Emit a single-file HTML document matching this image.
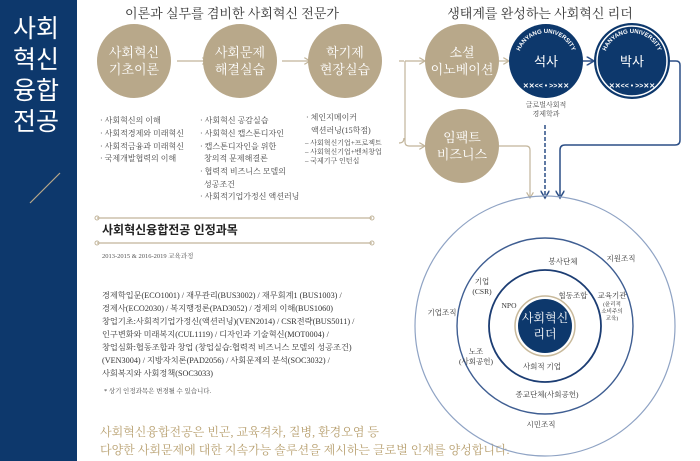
<!DOCTYPE html>
<html><head><meta charset="utf-8"><style>
html,body{margin:0;padding:0;background:#fff;}
svg{display:block;font-family:"Liberation Serif","Noto Serif CJK SC","Noto Sans CJK KR",serif;}
</style></head><body>
<svg width="700" height="461" viewBox="0 0 700 461" xmlns="http://www.w3.org/2000/svg">
<defs>
<marker id="at" markerWidth="6" markerHeight="6" refX="5" refY="3" orient="auto"><path d="M0,0 L5,3 L0,6" fill="none" stroke="#c2b59b" stroke-width="1"/></marker>
<marker id="an" markerWidth="6" markerHeight="6" refX="5" refY="3" orient="auto"><path d="M0,0 L5,3 L0,6" fill="none" stroke="#2c4f86" stroke-width="1"/></marker>
</defs>
<rect x="0" y="0" width="77" height="461" fill="#0d386c"/>
<g fill="#fff" font-family="Liberation Sans,'Noto Sans CJK KR',sans-serif" font-size="25" text-anchor="middle">
<text x="36" y="37">사회</text><text x="36" y="68">혁신</text><text x="36" y="99">융합</text><text x="36" y="130">전공</text>
</g>
<line x1="30" y1="203" x2="60" y2="173" stroke="#b8a88a" stroke-width="1.2"/>

<text x="232" y="18" font-size="13" fill="#333" text-anchor="middle">이론과 실무를 겸비한 사회혁신 전문가</text>
<text x="540" y="18" font-size="13" fill="#333" text-anchor="middle">생태계를 완성하는 사회혁신 리더</text>

<g stroke="#c2b59b" stroke-width="1.2" fill="none">
<line x1="177" y1="61" x2="208" y2="61" marker-end="url(#at)"/>
<line x1="282" y1="61" x2="310" y2="61" marker-end="url(#at)"/>
<path d="M405,61 L405,142 Q405,146 409,146 L425,146" marker-end="url(#at)"/>
<line x1="405" y1="61" x2="425" y2="61" marker-end="url(#at)"/>
<path d="M399,61 L404,61 M399,143 Q404,143 404,138"/>
<line x1="499" y1="61" x2="509" y2="61" marker-end="url(#at)"/>
<path d="M499,146 L526,146 Q530,146 530,150 L530,198" marker-end="url(#at)"/>
<line x1="97" y1="218" x2="372" y2="218"/>
<line x1="97" y1="243" x2="372" y2="243"/>
</g>
<g fill="none" stroke="#c2b59b"><circle cx="97" cy="218" r="2"/><circle cx="372" cy="218" r="2"/><circle cx="97" cy="243" r="2"/><circle cx="372" cy="243" r="2"/></g>

<g stroke="#2c4f86" stroke-width="1.5" fill="none">
<line x1="583" y1="61" x2="594" y2="61" marker-end="url(#an)"/>
<path d="M669,61 L676,61 Q680,61 680,65 L680,140 Q680,145 675,145 L565,145 Q560,145 560,150 L560,198" marker-end="url(#an)"/>
<line x1="545" y1="125" x2="545" y2="198" stroke-dasharray="4,2" marker-end="url(#an)"/>
</g>

<g fill="#b8a88a">
<circle cx="134" cy="61" r="37"/><circle cx="240" cy="61" r="37"/><circle cx="345" cy="61" r="37"/>
<circle cx="462" cy="61" r="37"/><circle cx="462" cy="146" r="37"/>
</g>
<g fill="#fff" font-size="13" text-anchor="middle">
<text x="134" y="57">사회혁신</text><text x="134" y="74">기초이론</text>
<text x="240" y="57">사회문제</text><text x="240" y="74">해결실습</text>
<text x="345" y="57">학기제</text><text x="345" y="74">현장실습</text>
<text x="462" y="57">소셜</text><text x="462" y="74">이노베이션</text>
<text x="462" y="142">임팩트</text><text x="462" y="159">비즈니스</text>
</g>

<circle cx="546" cy="61" r="37" fill="#0d386c"/>
<circle cx="632" cy="61" r="38" fill="#0d386c"/>
<circle cx="632" cy="61" r="35" fill="none" stroke="#fff" stroke-width="1.5"/>
<g fill="#fff" font-family="Liberation Sans,sans-serif" font-size="6" font-weight="bold" text-anchor="middle">
<path id="p1" d="M518,61 A28,28 0 0 1 574,61" fill="none"/>
<path id="p2" d="M604,61 A28,28 0 0 1 660,61" fill="none"/>
<text><textPath href="#p1" startOffset="50%">HANYANG UNIVERSITY</textPath></text>
<text><textPath href="#p2" startOffset="50%">HANYANG UNIVERSITY</textPath></text>
<text x="546" y="88" font-size="7">✕✕&lt;&lt; • &gt;&gt;✕✕</text>
<text x="632" y="88" font-size="7">✕✕&lt;&lt; • &gt;&gt;✕✕</text>
</g>
<g fill="#fff" font-size="13" text-anchor="middle" font-family="Liberation Sans,'Noto Sans CJK KR',sans-serif">
<text x="546" y="66">석사</text><text x="632" y="66">박사</text>
</g>
<g font-size="7" fill="#444" text-anchor="middle"><text x="546" y="107">글로벌사회적</text><text x="546" y="116">경제학과</text></g>

<g font-size="8" fill="#444">
<text x="100" y="123">· 사회혁신의 이해</text>
<text x="100" y="136">· 사회적경제와 미래혁신</text>
<text x="100" y="149">· 사회적금융과 미래혁신</text>
<text x="100" y="161">· 국제개발협력의 이해</text>
<text x="200" y="123">· 사회혁신 공감실습</text>
<text x="200" y="136">· 사회혁신 캡스톤디자인</text>
<text x="200" y="149">· 캡스톤디자인을 위한</text>
<text x="204" y="161">창의적 문제해결론</text>
<text x="200" y="174">· 협력적 비즈니스 모델의</text>
<text x="204" y="187">성공조건</text>
<text x="200" y="199">· 사회적기업가정신 액션러닝</text>
<text x="306" y="120">· 체인지메이커</text>
<text x="311" y="133">액션러닝(15학점)</text>
<text x="305" y="145" font-size="7">– 사회혁신기업+프로젝트</text>
<text x="305" y="154" font-size="7">– 사회혁신기업+벤처창업</text>
<text x="305" y="163" font-size="7">– 국제기구 인턴십</text>
</g>

<text x="102" y="234" font-size="12" font-weight="bold" fill="#222" font-family="Liberation Sans,'Noto Sans CJK KR',sans-serif">사회혁신융합전공 인정과목</text>
<text x="102" y="258" font-size="6.5" fill="#555">2013-2015 &amp; 2016-2019 교육과정</text>
<g font-size="8.2" fill="#333">
<text x="102" y="298">경제학입문(ECO1001) / 재무관리(BUS3002) / 재무회계1 (BUS1003) /</text>
<text x="102" y="311">경제사(ECO2030) / 복지행정론(PAD3052) / 경제의 이해(BUS1060)</text>
<text x="102" y="324">창업기초:사회적기업가정신(액션러닝)(VEN2014) / CSR전략(BUS5011) /</text>
<text x="102" y="337">인구변화와 미래복지(CUL1119) / 디자인과 기술혁신(MOT0004) /</text>
<text x="102" y="350">창업심화:협동조합과 창업 (창업실습:협력적 비즈니스 모델의 성공조건)</text>
<text x="102" y="363">(VEN3004) / 지방자치론(PAD2056) / 사회문제의 분석(SOC3032) /</text>
<text x="102" y="376">사회복지와 사회정책(SOC3033)</text>
</g>
<text x="104" y="393" font-size="6.5" fill="#444">* 상기 인정과목은 변경될 수 있습니다.</text>
<g font-size="12" fill="#b8a070">
<text x="100" y="436">사회혁신융합전공은 빈곤, 교육격차, 질병, 환경오염 등</text>
<text x="100" y="454">다양한 사회문제에 대한 지속가능 솔루션을 제시하는 글로벌 인재를 양성합니다.</text>
</g>

<g fill="none">
<circle cx="545" cy="326" r="130" stroke="#8fa3c4" stroke-width="1.2"/>
<circle cx="545" cy="326" r="88" stroke="#3f5e92" stroke-width="1.4"/>
<circle cx="545" cy="326" r="56" stroke="#1c3d73" stroke-width="1.8"/>
<circle cx="545" cy="326" r="30" stroke="#c8b99b" stroke-width="1.5"/>
</g>
<circle cx="545" cy="326" r="27" fill="#0d386c"/>
<g fill="#fff" font-size="12" text-anchor="middle"><text x="545" y="322">사회혁신</text><text x="545" y="338">리더</text></g>
<g font-size="7.5" fill="#333" text-anchor="middle">
<text x="563" y="264">봉사단체</text>
<text x="621" y="261">지원조직</text>
<text x="482" y="284">기업</text><text x="482" y="294">(CSR)</text>
<text x="573" y="298">협동조합</text>
<text x="612" y="298">교육기관</text>
<text x="612" y="306" font-size="5.5">(윤리적</text><text x="612" y="313" font-size="5.5">소비주의</text><text x="612" y="320" font-size="5.5">교육)</text>
<text x="442" y="315">기업조직</text>
<text x="509" y="308">NPO</text>
<text x="476" y="354">노조</text><text x="476" y="364">(사회공헌)</text>
<text x="542" y="369">사회적 기업</text>
<text x="547" y="397">종교단체(사회공헌)</text>
<text x="541" y="427">시민조직</text>
</g>
</svg>
</body></html>
